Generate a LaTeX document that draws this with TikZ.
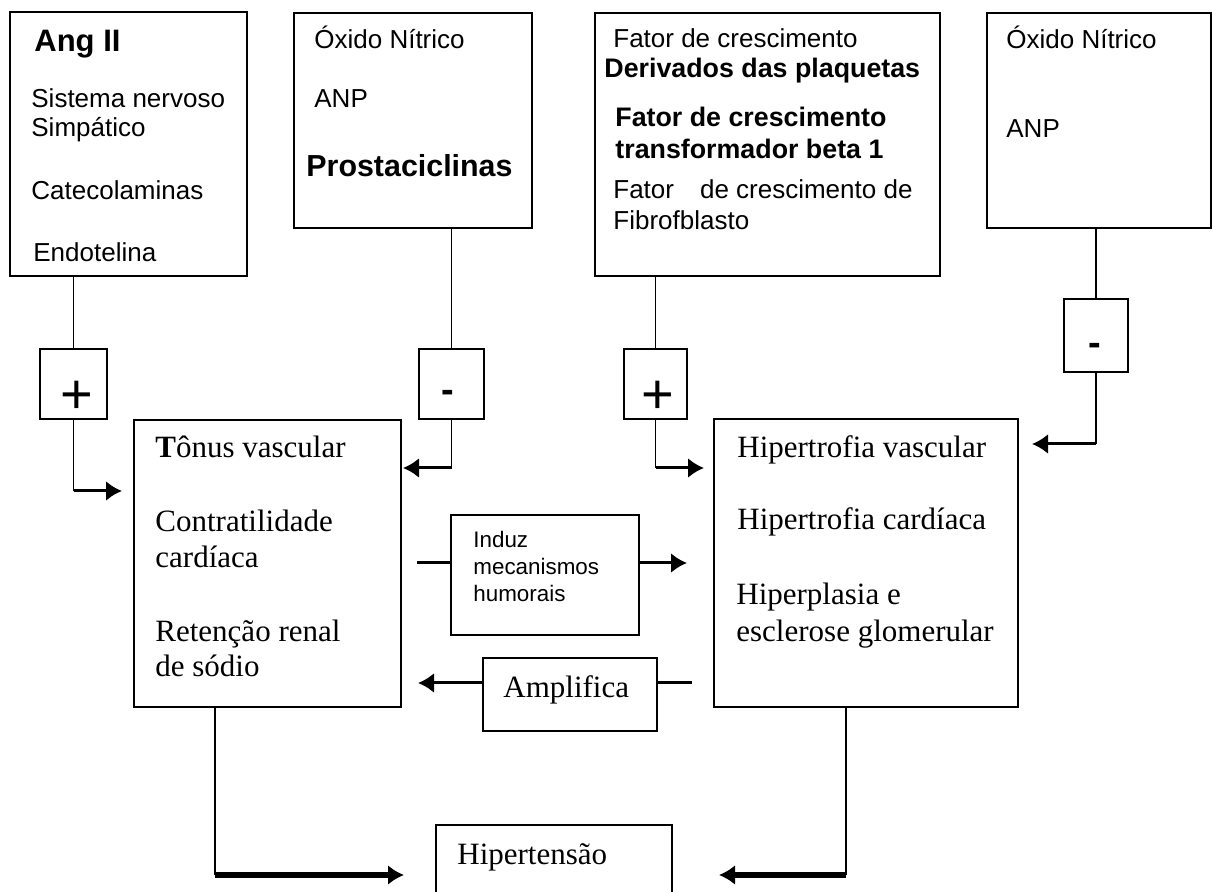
\documentclass[tikz,border=0pt]{standalone}
\usepackage{fontspec}
\setmainfont{Liberation Serif}
\newfontfamily\arialf{Liberation Sans}
\usetikzlibrary{arrows.meta,fit}
\begin{document}
\begin{tikzpicture}[x=0.5pt,y=-0.5pt,
  box/.style={draw, line width=1pt, inner sep=0pt},
  txt/.style={anchor=base west, inner sep=0pt},
  sfn/.style={font=\arialf\fontsize{13}{15}\selectfont},
  sfb/.style={font=\arialf\bfseries\fontsize{13.4}{15}\selectfont},
  sfs/.style={font=\arialf\fontsize{11.2}{13}\selectfont},
  srf/.style={font=\fontsize{15.5}{18}\selectfont},
  plus/.style={font=\arialf\fontsize{28}{30}\selectfont, inner sep=0pt, anchor=base},
  minus/.style={font=\arialf\bfseries\fontsize{19}{21}\selectfont, inner sep=0pt, anchor=base},
  ln/.style={line width=0.8pt},
  arr/.style={line width=1.5pt, -{Latex[length=8pt,width=10pt]}},
  plainln/.style={line width=1.5pt},
  thk/.style={line width=2.6pt, -{Latex[length=8pt,width=10pt]}}]
\useasboundingbox (0,0) rectangle (1212,892);
\fill[white] (0,0) rectangle (1212,892);

% ---------- top boxes ----------
\node[box, fit={(10,12) (247,276)}] (b1) {};
\node[txt, font=\arialf\bfseries\fontsize{15.5}{18}\selectfont] (b1a) at (34,52) {Ang II};
\node[txt, sfn] (b1b) at (31,108) {Sistema nervoso};
\node[txt, sfn] (b1c) at (31,137) {Simpático};
\node[txt, sfn] (b1d) at (31,200) {Catecolaminas};
\node[txt, sfn] (b1e) at (33,262) {Endotelina};

\node[box, fit={(294,13) (532,228)}] (b2) {};
\node[txt, sfn] (b2a) at (314,49) {Óxido Nítrico};
\node[txt, sfn] (b2b) at (314,108) {ANP};
\node[txt, font=\arialf\bfseries\fontsize{15.2}{18}\selectfont] (b2c) at (306,177) {Prostaciclinas};

\node[box, fit={(595,13) (940,276)}] (b3) {};
\node[txt, sfn] (b3a) at (613,48) {Fator de crescimento};
\node[txt, sfb] (b3b) at (604,78) {Derivados das plaquetas};
\node[txt, sfb] (b3c) at (615,127) {Fator de crescimento};
\node[txt, sfb] (b3d) at (615,159) {transformador beta 1};
\node[txt, sfn] (b3e) at (613,199) {Fator\quad de crescimento de};
\node[txt, sfn] (b3f) at (613,230) {Fibrofblasto};

\node[box, fit={(987,13) (1211,228)}] (b4) {};
\node[txt, sfn] (b4a) at (1006,49) {Óxido Nítrico};
\node[txt, sfn] (b4b) at (1006,138) {ANP};

% ---------- sign boxes ----------
\node[box, fit={(40,349) (107,419)}] (p1) {};
\node[plus] (p1s) at (77,414) {+};
\node[box, fit={(419,349) (484,419)}] (m1) {};
\node[minus] (m1s) at (448,403) {-};
\node[box, fit={(624,349) (687,419)}] (p2) {};
\node[plus] (p2s) at (658,414) {+};
\node[box, fit={(1064,299) (1128,372)}] (m2) {};
\node[minus] (m2s) at (1095,356) {-};

% ---------- middle boxes ----------
\node[box, fit={(134,420) (401,707)}] (L) {};
\node[txt, srf] (La) at (155,458) {\textbf{T}ônus vascular};
\node[txt, srf] (Lb) at (155,532) {Contratilidade};
\node[txt, srf] (Lc) at (155,568) {cardíaca};
\node[txt, srf] (Ld) at (155,642) {Retenção renal};
\node[txt, srf] (Le) at (155,677) {de sódio};

\node[box, fit={(714,419) (1018,707)}] (R) {};
\node[txt, srf] (Ra) at (737,458) {Hipertrofia vascular};
\node[txt, srf] (Rb) at (737,530) {Hipertrofia cardíaca};
\node[txt, srf] (Rc) at (736,605) {Hiperplasia e};
\node[txt, srf] (Rd) at (736,642) {esclerose glomerular};

\node[box, fit={(451,515) (639,635)}] (I) {};
\node[txt, sfs] (Ia) at (473,548) {Induz};
\node[txt, sfs] (Ib) at (473,575) {mecanismos};
\node[txt, sfs] (Ic) at (473,602) {humorais};

\node[box, fit={(483,658) (657,731)}] (A) {};
\node[txt, srf] (Aa) at (503,698) {Amplifica};

\node[box, fit={(436,825) (672,910)}] (H) {};
\node[txt, srf] (Ha) at (457,865) {Hipertensão};

% ---------- coordinates ----------
\coordinate (p1c) at (73.5,491);
\coordinate (p1e) at (122,491);
\coordinate (m1c) at (451.5,468);
\coordinate (m1e) at (403,468);
\coordinate (p2c) at (655.5,468);
\coordinate (p2e) at (704,468);
\coordinate (m2c) at (1096,444);
\coordinate (m2e) at (1032,444);
\coordinate (Ls) at (417,563);
\coordinate (Ie) at (687,563);
\coordinate (Rs) at (692,683);
\coordinate (Ae) at (418,683);
\coordinate (Lc2) at (215,875);
\coordinate (Le2) at (404,875);
\coordinate (Rc2) at (846,875);
\coordinate (Re2) at (719,875);

% ---------- connectors ----------
\draw[ln] (b1.south -| p1.north) -- (p1.north);
\draw[ln] (p1.south) -- (p1c);
\draw[arr] (p1c) -- (p1e);

\draw[ln] (b2.south -| m1.north) -- (m1.north);
\draw[ln] (m1.south) -- (m1c);
\draw[arr] (m1c) -- (m1e);

\draw[ln] (b3.south -| p2.north) -- (p2.north);
\draw[ln] (p2.south) -- (p2c);
\draw[arr] (p2c) -- (p2e);

\draw[ln] (b4.south -| m2.north) -- (m2.north);
\draw[ln] (m2.south) -- (m2c);
\draw[arr] (m2c) -- (m2e);

\draw[plainln] (Ls) -- (Ls -| I.west);
\draw[arr] (Ie -| I.east) -- (Ie);
\draw[plainln] (Rs) -- (Rs -| A.east);
\draw[arr] (Ae -| A.west) -- (Ae);

\draw[ln] (Lc2 |- L.south) -- (Lc2);
\draw[thk] (Lc2) -- (Le2);
\draw[ln] (Rc2 |- R.south) -- (Rc2);
\draw[thk] (Rc2) -- (Re2);
\end{tikzpicture}
\end{document}
